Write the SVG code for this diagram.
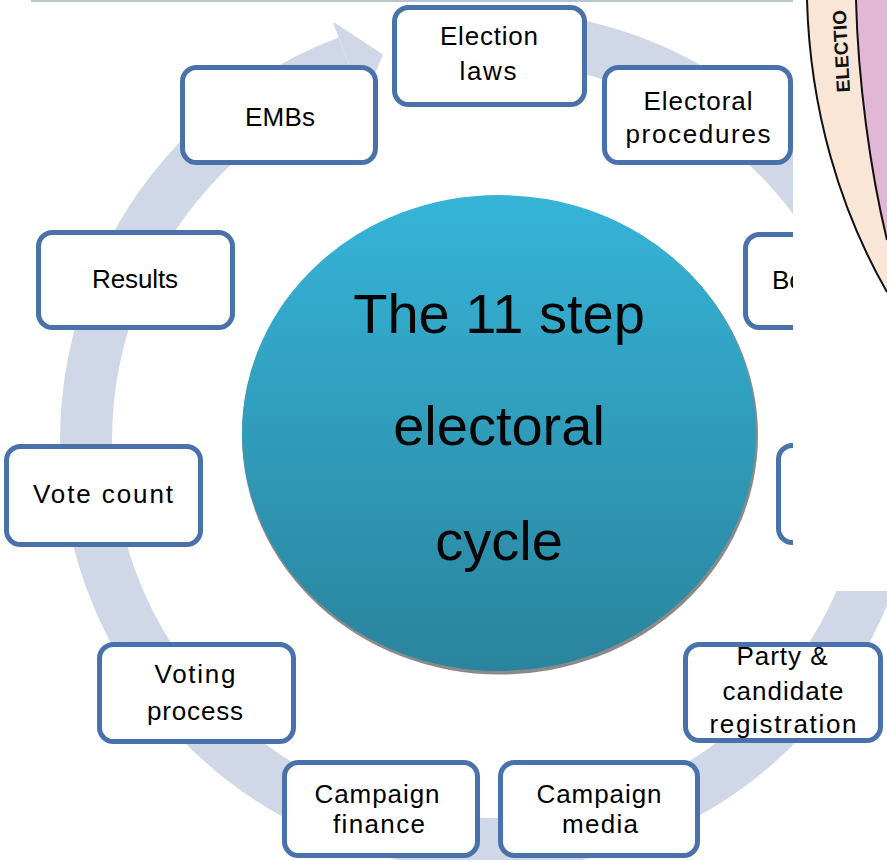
<svg xmlns="http://www.w3.org/2000/svg" width="887" height="860" viewBox="0 0 887 860">
<style>
.box{fill:#ffffff;stroke:#4A72AA;stroke-width:5}
.lbl{font-family:"Liberation Sans",Arial,sans-serif;font-size:26px;fill:#000;text-anchor:middle}
.big{font-family:"Liberation Sans",Arial,sans-serif;font-size:56px;fill:#050505;text-anchor:middle}
.ring{fill:none;stroke:#D0D8E8;stroke-width:52}
</style>
<defs>
<linearGradient id="hub" x1="0" y1="0" x2="0" y2="1">
<stop offset="0" stop-color="#36B4D8"/>
<stop offset="1" stop-color="#2A849D"/>
</linearGradient>
</defs>
<rect x="0" y="0" width="887" height="860" fill="#ffffff"/>
<g id="connectors">
<path class="ring" d="M412.9,43.4 A404,404 0 1 1 347.9,61.8"/>
<polygon points="332.7,21.6 383.1,54.6 363,102.1" fill="#D0D8E8"/>
</g>
<g id="hub-node">
<ellipse cx="500" cy="435.5" rx="258" ry="239" fill="#8a8a8a"/>
<ellipse cx="499" cy="433" rx="257" ry="238" fill="url(#hub)"/>
<text class="big" x="499" y="333">The 11 step</text>
<text class="big" x="499" y="445">electoral</text>
<text class="big" x="499" y="560">cycle</text>
</g>
<g id="election-laws">
<rect class="box" x="394.5" y="7.5" width="190" height="97" rx="14"/>
<text class="lbl" x="489" y="45" textLength="98" lengthAdjust="spacing">Election</text>
<text class="lbl" x="488" y="80" textLength="57" lengthAdjust="spacing">laws</text>
</g>
<g id="electoral-procedures">
<rect class="box" x="604.5" y="67.5" width="186" height="95" rx="14"/>
<text class="lbl" x="698" y="110" textLength="109" lengthAdjust="spacing">Electoral</text>
<text class="lbl" x="698" y="143" textLength="145" lengthAdjust="spacing">procedures</text>
</g>
<g id="boundary">
<rect class="box" x="745.5" y="234.5" width="194" height="93" rx="14"/>
<text class="lbl" x="772" y="289" style="text-anchor:start">Bo</text>
</g>
<g id="step-5">
<rect class="box" x="778.5" y="445.5" width="194" height="97" rx="14"/>
</g>
<g id="party-registration">
<rect class="box" x="685.5" y="644.5" width="195" height="96" rx="14"/>
<text class="lbl" x="782" y="665" textLength="91" lengthAdjust="spacing">Party &amp;</text>
<text class="lbl" x="783" y="700" textLength="121" lengthAdjust="spacing">candidate</text>
<text class="lbl" x="783" y="733" textLength="147" lengthAdjust="spacing">registration</text>
</g>
<g id="campaign-media">
<rect class="box" x="500.5" y="762.5" width="197" height="93" rx="14"/>
<text class="lbl" x="599" y="803" textLength="125" lengthAdjust="spacing">Campaign</text>
<text class="lbl" x="600" y="833" textLength="76" lengthAdjust="spacing">media</text>
</g>
<g id="campaign-finance">
<rect class="box" x="284.5" y="762.5" width="193" height="93" rx="14"/>
<text class="lbl" x="377" y="803" textLength="125" lengthAdjust="spacing">Campaign</text>
<text class="lbl" x="379" y="833" textLength="92" lengthAdjust="spacing">finance</text>
</g>
<g id="voting-process">
<rect class="box" x="99.5" y="644.5" width="194" height="97" rx="14"/>
<text class="lbl" x="195" y="683" textLength="81" lengthAdjust="spacing">Voting</text>
<text class="lbl" x="195" y="720" textLength="96" lengthAdjust="spacing">process</text>
</g>
<g id="vote-count">
<rect class="box" x="6.5" y="446.5" width="194" height="98" rx="14"/>
<text class="lbl" x="103" y="503" textLength="140" lengthAdjust="spacing">Vote count</text>
</g>
<g id="results">
<rect class="box" x="38.5" y="232.5" width="194" height="95" rx="14"/>
<text class="lbl" x="135" y="288" textLength="86" lengthAdjust="spacing">Results</text>
</g>
<g id="embs">
<rect class="box" x="182.5" y="67.5" width="193" height="95" rx="14"/>
<text class="lbl" x="280" y="126" textLength="70" lengthAdjust="spacing">EMBs</text>
</g>
<g id="inset">
<rect x="793" y="0" width="94" height="591" fill="#ffffff"/>
<path d="M807,0 C810,110 840,210 887,292 L887,240 C870,170 858,80 856,0 Z" fill="#FAE6D7"/>
<path d="M856,0 C858,80 870,170 887,240 L887,0 Z" fill="#E2B7D6"/>
<path d="M807,0 C810,110 840,210 887,292" fill="none" stroke="#111" stroke-width="2"/>
<path d="M856,0 C858,80 870,170 887,240" fill="none" stroke="#111" stroke-width="2"/>
<text x="850" y="92" transform="rotate(-93 850 92)" font-family="Liberation Sans,Arial,sans-serif" font-size="19" font-weight="bold" fill="#111">ELECTIO</text>
</g>
<rect x="31" y="0" width="762" height="2" fill="#B4C6CE"/>
</svg>
